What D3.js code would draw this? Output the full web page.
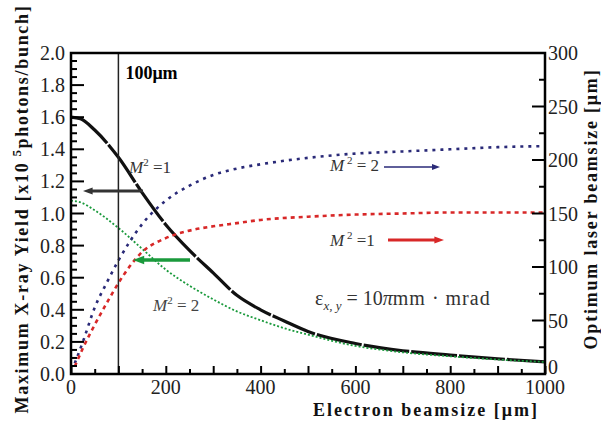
<!DOCTYPE html>
<html lang="en">
<head>
  <meta charset="UTF-8">
  <title>X-ray yield vs electron beamsize</title>
  <script src="https://d3js.org/d3.v7.min.js"></script>
  <style>
    body { margin: 0; background: #fff; }
    svg text { font-family: "Liberation Serif", "Times New Roman", serif; }
    .tick-label { font-size: 20px; fill: #222; }
    .title { font-size: 18px; font-weight: bold; letter-spacing: 1.5px; fill: #111; }
    .note { font-size: 17px; font-style: italic; fill: #333; }
  </style>
</head>
<body>
  <svg id="chart" width="601" height="423" font-family="Liberation Serif, serif"></svg>

  <script>
    const width = 601;
    const height = 423;
    const margin = { top: 53, right: 56, bottom: 49, left: 71 };

    // electron beamsize [um] sample positions per curve
    const yieldX = [0, 20, 50, 100, 150, 200, 250, 300, 350, 400, 450, 500, 600, 700, 800, 900, 1000];
    // maximum X-ray yield [x10^5 photons/bunch], M^2 = 1
    const yieldM1 = [1.60, 1.59, 1.52, 1.35, 1.13, 0.93, 0.77, 0.63, 0.49, 0.40, 0.33, 0.265, 0.19, 0.145, 0.118, 0.095, 0.075];
    // maximum X-ray yield, M^2 = 2
    const yieldM2 = [1.08, 1.07, 1.02, 0.91, 0.78, 0.65, 0.55, 0.465, 0.39, 0.335, 0.285, 0.245, 0.175, 0.135, 0.11, 0.09, 0.075];

    const laserX = [8, 25, 50, 75, 100, 150, 200, 250, 300, 350, 400, 500, 600, 700, 800, 900, 1000];
    // optimum laser beamsize [um], M^2 = 2
    const laserM2 = [10, 30, 62, 85, 106, 140, 162, 176, 186, 192, 196, 202, 206, 208, 210, 212, 213];
    // optimum laser beamsize [um], M^2 = 1
    const laserM1 = [7, 24, 46, 66, 85, 114, 127, 134, 138, 141, 144, 147, 149, 150, 151, 151, 151];

    const xTicks = [0, 200, 400, 600, 800, 1000];
    const yLeftTicks = [0, 0.2, 0.4, 0.6, 0.8, 1.0, 1.2, 1.4, 1.6, 1.8, 2.0];
    const yRightTicks = [0, 50, 100, 150, 200, 250, 300];

    const x = d3.scaleLinear().domain([0, 1000]).range([margin.left, width - margin.right]);
    const yL = d3.scaleLinear().domain([0, 2]).range([height - margin.bottom, margin.top]);
    const yR = d3.scaleLinear().domain([0, 300]).range([height - margin.bottom, margin.top]);

    const svg = d3.select("#chart");

    // curves
    const series = [
      { xs: yieldX, ys: yieldM1, y: yL, color: "#111", w: 3.2, dash: "46,2" },
      { xs: yieldX, ys: yieldM2, y: yL, color: "#1a9a3c", w: 1.8, dash: "2,2" },
      { xs: laserX, ys: laserM2, y: yR, color: "#2a2a78", w: 2.6, dash: "3,5" },
      { xs: laserX, ys: laserM1, y: yR, color: "#d82828", w: 2.6, dash: "4,4" }
    ];

    series.forEach(s => {
      const line = d3.line()
        .x(d => x(d[0]))
        .y(d => s.y(d[1]))
        .curve(d3.curveMonotoneX);
      svg.append("path")
        .datum(s.xs.map((v, i) => [v, s.ys[i]]))
        .attr("fill", "none")
        .attr("stroke", s.color)
        .attr("stroke-width", s.w)
        .attr("stroke-dasharray", s.dash)
        .attr("d", line);
    });

    // 100 um marker line
    svg.append("line")
      .attr("x1", x(100)).attr("x2", x(100))
      .attr("y1", yL(2)).attr("y2", yL(0))
      .attr("stroke", "#222").attr("stroke-width", 1.5);
    svg.append("text")
      .attr("x", x(100) + 7).attr("y", yL(2) + 26)
      .style("font-size", "18px").style("font-weight", "bold")
      .text("100μm");

    // axes: ticks point inward
    const xAxis = d3.axisBottom(x).tickValues(d3.range(0, 1001, 50)).tickSize(0).tickFormat("");
    svg.append("g")
      .attr("transform", `translate(0,${yL(0)})`)
      .call(xAxis)
      .call(g => g.selectAll(".tick line").remove())
      .call(g => g.selectAll(".tick").append("line")
        .attr("y2", d => d % 100 === 0 ? -8 : -5)
        .attr("stroke", "#000").attr("stroke-width", 2));

    svg.append("g")
      .selectAll("text")
      .data(xTicks)
      .join("text")
      .attr("class", "tick-label")
      .attr("x", d => x(d))
      .attr("y", yL(0) + 20)
      .attr("text-anchor", "middle")
      .text(d => d);

    const leftMinor = d3.range(0, 2.0001, 0.05);
    svg.append("g")
      .selectAll("line")
      .data(leftMinor)
      .join("line")
      .attr("x1", x(0))
      .attr("x2", (d, i) => x(0) + (i % 4 === 0 ? 13 : 6))
      .attr("y1", d => yL(d)).attr("y2", d => yL(d))
      .attr("stroke", "#000").attr("stroke-width", 2);

    svg.append("g")
      .selectAll("text")
      .data(yLeftTicks)
      .join("text")
      .attr("class", "tick-label")
      .attr("x", x(0) - 6)
      .attr("y", d => yL(d) + 7)
      .attr("text-anchor", "end")
      .text(d => d.toFixed(1));

    const rightMinor = d3.range(0, 301, 25);
    svg.append("g")
      .selectAll("line")
      .data(rightMinor)
      .join("line")
      .attr("x1", x(1000))
      .attr("x2", d => x(1000) - (d % 50 === 0 ? 13 : 6))
      .attr("y1", d => yR(d)).attr("y2", d => yR(d))
      .attr("stroke", "#000").attr("stroke-width", 2);

    svg.append("g")
      .selectAll("text")
      .data(yRightTicks)
      .join("text")
      .attr("class", "tick-label")
      .attr("x", x(1000) + 3)
      .attr("y", d => yR(d) + (d === 0 ? 0 : 7))
      .text(d => d);

    // frame (left, top, right, bottom)
    svg.append("rect")
      .attr("x", x(0)).attr("y", yL(2))
      .attr("width", x(1000) - x(0)).attr("height", yL(0) - yL(2))
      .attr("fill", "none").attr("stroke", "#000").attr("stroke-width", 2.5);

    // axis titles
    svg.append("text")
      .attr("class", "title")
      .attr("x", 426).attr("y", 416)
      .attr("text-anchor", "middle")
      .style("letter-spacing", "2px")
      .text("Electron beamsize [μm]");

    const leftTitle = svg.append("text")
      .attr("class", "title")
      .attr("transform", "translate(28,209) rotate(-90)")
      .attr("text-anchor", "middle")
      .style("letter-spacing", "1.7px");
    leftTitle.append("tspan").text("Maximum X-ray Yield [x10");
    leftTitle.append("tspan").attr("dy", -7).style("font-size", "13px").text(" 5");
    leftTitle.append("tspan").attr("dy", 7).text("photons/bunch]");

    svg.append("text")
      .attr("class", "title")
      .attr("transform", "translate(597,209) rotate(-90)")
      .attr("text-anchor", "middle")
      .style("letter-spacing", "1.8px")
      .text("Optimum laser beamsize [μm]");

    // annotations
    function mLabel(px, py, val, color, spaced) {
      const t = svg.append("text").attr("x", px).attr("y", py)
        .attr("class", "note").style("fill", color);
      t.append("tspan").text("M");
      t.append("tspan").attr("dy", -7).style("font-size", "11px").style("font-style", "normal").text(spaced ? " 2" : "2");
      t.append("tspan").attr("dy", 7).style("font-style", "normal").text(val);
    }

    function arrow(x1, y1, x2, y2, color, w, head) {
      svg.append("line")
        .attr("x1", x1).attr("y1", y1).attr("x2", x2 - Math.sign(x2 - x1) * head).attr("y2", y2)
        .attr("stroke", color).attr("stroke-width", w);
      const dir = Math.sign(x2 - x1);
      svg.append("path")
        .attr("d", `M${x2},${y2} L${x2 - dir * head * 1.6},${y2 - head * 0.6} L${x2 - dir * head * 1.6},${y2 + head * 0.6} Z`)
        .attr("fill", color);
    }

    mLabel(129, 173, " =1", "#333", false);
    arrow(143, 191, 83, 191, "#333", 3, 6);

    arrow(190, 260, 133, 260, "#1a9a3c", 3.5, 7);
    mLabel(153, 311, " = 2", "#444", false);

    mLabel(330, 171, " = 2", "#333", true);
    arrow(384, 167, 440, 167, "#2a2a78", 1.3, 5);

    mLabel(330, 246, " =1", "#333", true);
    arrow(388, 240, 444, 240, "#d82828", 3, 6);

    const eps = svg.append("text").attr("x", 315).attr("y", 305)
      .style("font-size", "20px").style("fill", "#333");
    eps.append("tspan").text("ε");
    eps.append("tspan").attr("dy", 5).style("font-size", "13px").style("font-style", "italic").text("x, y");
    eps.append("tspan").attr("dy", -5).text(" = 10");
    eps.append("tspan").style("font-style", "italic").text("π");
    eps.append("tspan").style("letter-spacing", "1px").text("mm · mrad");
  </script>
</body>
</html>
